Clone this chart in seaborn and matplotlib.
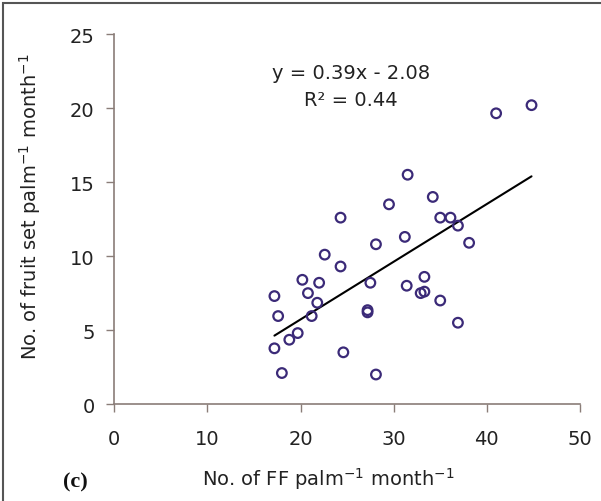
import numpy as np
import pandas as pd
import matplotlib
matplotlib.use("Agg")
import matplotlib.pyplot as plt
import seaborn as sns
from matplotlib.patches import Rectangle

# Flowers (FF) per palm per month vs fruit set per palm per month
ff_per_palm = [41.0, 44.8, 31.5, 34.2, 29.5, 24.3, 35.0, 36.1, 36.9, 31.2,
               28.1, 38.1, 22.6, 24.3, 20.2, 22.0, 27.5, 31.4, 33.3, 32.9,
               33.3, 35.0, 17.2, 20.8, 21.8, 17.6, 21.2, 27.2, 27.2, 36.9,
               19.7, 18.8, 17.2, 24.6, 18.0, 28.1]
fruit_set = [19.65, 20.2, 15.5, 14.0, 13.5, 12.6, 12.6, 12.6, 12.06, 11.3,
             10.8, 10.9, 10.1, 9.3, 8.4, 8.2, 8.2, 8.0, 8.6, 7.5,
             7.6, 7.0, 7.3, 7.5, 6.85, 5.95, 5.95, 6.35, 6.2, 5.5,
             4.8, 4.35, 3.77, 3.5, 2.1, 2.0]
slope, intercept, r_squared = 0.39, -2.08, 0.44
x_ticks = [0, 10, 20, 30, 40, 50]
y_ticks = [0, 5, 10, 15, 20, 25]

df = pd.DataFrame({"ff": ff_per_palm, "fs": fruit_set})

sns.set_theme(style="white")
plt.rcParams["font.family"] = ["DejaVu Sans"]

fig = plt.figure(figsize=(6.01, 5.02), dpi=100)
ax = fig.add_axes([0.19, 0.193, 0.775, 0.737])

axis_col = "#8a7d78"
point_col = "#3b2a78"
text_col = "#222222"

sns.scatterplot(data=df, x="ff", y="fs", ax=ax, marker="o", s=48,
                facecolor="none", edgecolor=point_col, linewidth=1.6, zorder=3)

# linear trend line over the observed range
xs = np.array([min(ff_per_palm), max(ff_per_palm)])
ax.plot(xs, slope * xs + intercept, color="black", linewidth=1.5, zorder=2)

ax.set_xlim(0, 50)
ax.set_ylim(0, 25)
ax.set_xticks(x_ticks)
ax.set_yticks(y_ticks)
ax.tick_params(axis="both", labelsize=14, colors=text_col, direction="out",
               length=6, width=1)
ax.tick_params(axis="x", pad=12, color=axis_col)
ax.tick_params(axis="y", pad=8, color=axis_col)
ax.xaxis.set_ticks_position("bottom")
ax.yaxis.set_ticks_position("left")
for side in ["top", "right"]:
    ax.spines[side].set_visible(False)
for side in ["left", "bottom"]:
    ax.spines[side].set_color(axis_col)
    ax.spines[side].set_linewidth(1.2)

ax.set_xlabel("No. of FF palm$^{\\mathregular{-1}}$ month$^{\\mathregular{-1}}$",
              fontsize=14, color=text_col)
ax.xaxis.set_label_coords(0.459, -0.2)
ax.xaxis.label.set_va("center")
ax.set_ylabel("No. of fruit set palm$^{\\mathregular{-1}}$ month$^{\\mathregular{-1}}$",
              fontsize=14, color=text_col)
ax.yaxis.set_label_coords(-0.18, 0.535)
ax.yaxis.label.set_va("center")

ax.text(0.509, 0.897, f"y = {slope:.2f}x - {abs(intercept):.2f}",
        transform=ax.transAxes, ha="center", va="center", fontsize=14,
        color=text_col)
ax.text(0.509, 0.824, f"R² = {r_squared:.2f}",
        transform=ax.transAxes, ha="center", va="center", fontsize=14,
        color=text_col)

fig.text(0.125, 0.038, "(c)", fontsize=16, fontweight="bold",
         family="Liberation Serif", ha="center", va="center", color="#111111")

# outer frame
fig.patches.append(Rectangle((0.005, -0.02), 1.2, 1.012, transform=fig.transFigure,
                             fill=False, edgecolor="#555555", linewidth=1.5))

fig.savefig("out.png", dpi=100)
